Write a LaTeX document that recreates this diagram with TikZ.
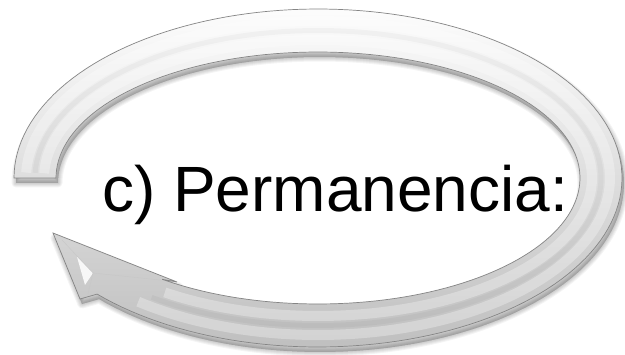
\documentclass[tikz,border=0pt]{standalone}
\usepackage{fontspec}
\setmainfont{Liberation Sans}
\tikzset{
  ringshape/.style={insert path={
    plot[domain=180:496.6,samples=150] ({318+304*cos(\x)},{178+169*sin(\x)})
    -- (80,299) -- (53,233) -- (177,282)
    -- plot[domain=486.5:180,samples=150] ({318+262*cos(\x)},{178+126*sin(\x)})
    -- cycle}},
  ringshadow/.style={fill=black, draw=black, opacity=0.045, line join=round},
  ringfill/.style={top color=white!99!black, middle color=white!92!black, bottom color=white!75!black,
    draw=black!48, line width=0.7pt, line join=miter},
  band/.style={line cap=butt},
  lbl/.style={anchor=base west, inner sep=0pt, font=\fontsize{64}{64}\selectfont, text=black}
}
\begin{document}
\begin{tikzpicture}[x=1pt,y=-1pt]
  \useasboundingbox (0,0) rectangle (625,355);
  \fill[white] (0,0) rectangle (625,355);
  % drop shadow
  \foreach \w in {9,7,5,3,1}{
    \path[ringshadow, line width=\w pt, shift={(2,5)}, ringshape];
  }
  % ring body
  \path[ringfill, ringshape];
  % bevel bands
  \draw[band, white, opacity=0.3, line width=10pt]
    plot[domain=182:488,samples=150] ({318+292*cos(\x)},{178+157*sin(\x)});
  \draw[band, white, opacity=0.3, line width=10pt]
    plot[domain=182:484,samples=150] ({318+274*cos(\x)},{178+138*sin(\x)});
  \draw[band, black, opacity=0.03, line width=5pt]
    plot[domain=182:486,samples=150] ({318+283*cos(\x)},{178+147.5*sin(\x)});
  % facet on arrowhead
  \fill[white, opacity=0.85] (77,257) -- (93,273) -- (85,285) -- cycle;
  \draw[black!22, line width=0.4pt] (62,240) -- (93,273) -- (160,280);
  \draw[black!22, line width=0.4pt] (93,273) -- (88,294);
  % text
  \node[lbl] (label) at (102,211.7) {c) Permanencia:};
\end{tikzpicture}
\end{document}
